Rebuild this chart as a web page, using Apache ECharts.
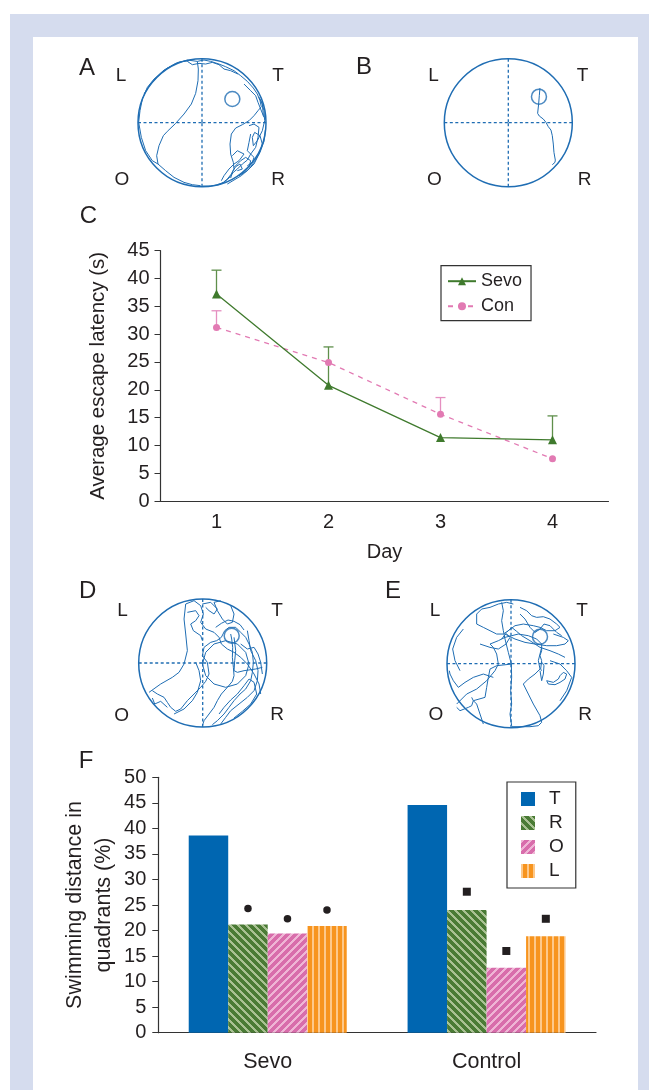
<!DOCTYPE html>
<html>
<head>
<meta charset="utf-8">
<script src="https://cdn.jsdelivr.net/npm/echarts@6/dist/echarts.min.js"></script>
<style>
html, body { margin: 0; padding: 0; background: #fff; }
body { position: relative; width: 649px; height: 1090px; overflow: hidden; }
#frame { position: absolute; left: 10px; top: 14px; width: 639px; height: 1100px; background: #d5dcee; }
#inner { position: absolute; left: 33px; top: 37px; width: 605px; height: 1100px; background: #fff; }
#chart { position: absolute; left: 0; top: 0; width: 649px; height: 1090px; }
</style>
</head>
<body>
<div id="frame"></div>
<div id="inner"></div>
<div id="chart"></div>
<script>
// panel C: escape latency
const days = ['1', '2', '3', '4'];
const sevoMean = [37.2, 20.8, 11.4, 11.0];
const sevoUpper = [41.5, 27.7, null, 15.3];
const conMean = [31.2, 24.9, 15.6, 7.6];
const conUpper = [34.2, null, 18.6, null];

// panel F: swimming distance in quadrants (%)
const groups = ['Sevo', 'Control'];
const quadT = [38.6, 44.6];
const quadR = [21.2, 24.0];
const quadO = [19.4, 12.7];
const quadL = [20.9, 18.9];
const markR = [24.3, 27.6];
const markO = [22.3, 16.0];
const markL = [24.0, 22.3];

// swim tracks (camera units, y down)
const platformA = [295, 135];
const tracksA = [
    [[200,395],[175,392],[150,385],[120,370],[95,350],[72,330],[68,305],[75,275],[88,245],[100,232],[125,208],[150,180],[172,150],[185,118],[192,80],[193,45],[190,22],[210,18],[230,22],[255,30],[275,38],[300,50],[320,65],[340,82],[358,102],[370,120],[378,140],[382,158],[372,170],[360,185],[345,200],[325,212],[305,222],[292,240],[288,270],[290,300],[298,325],[300,345],[292,360],[280,375],[268,385],[255,392],[230,396],[205,396]],
    [[300,340],[320,320],[335,310],[350,320],[345,340],[330,355],[315,365],[340,350],[360,330],[375,300],[385,270],[378,245],[362,235],[355,250],[358,275],[370,260],[385,230],[392,200],[390,170],[383,145],[375,130],[385,150],[388,185]],
    [[25,135],[18,170],[14,205],[22,250],[35,290],[55,320],[72,330]],
    [[25,135],[40,100],[60,75],[90,48],[125,28],[160,18],[190,22]],
    [[30,120],[48,92],[70,68],[100,42],[135,24],[165,20]],
    [[160,22],[175,32],[195,28],[215,30],[235,25],[255,32],[270,45],[290,50],[312,60]],
    [[250,392],[270,385],[285,372],[298,355],[310,345],[325,330],[340,318],[350,300],[360,310],[355,325],[340,335]],
    [[295,305],[310,290],[330,300],[315,320],[300,330],[285,345],[270,365],[262,380]],
    [[330,90],[350,110],[365,125],[372,145],[380,165],[390,190]],
    [[345,215],[360,210],[375,220],[372,250],[365,280],[350,300],[340,290],[345,265],[350,240]],
    [[280,390],[300,378],[322,365],[345,345],[362,322],[378,295],[390,262],[394,228]],
    [[310,350],[325,345],[318,330],[305,338],[296,352],[290,372]]
];
const platformB = [297, 128];
const tracksB = [
    [[300,102],[298,125],[296,150],[293,178],[298,186],[310,195],[318,205],[325,218],[333,228],[337,245],[340,270],[342,295],[346,318],[345,325],[337,332]]
];
const platformD = [293, 125];
const tracksD = [
    [[205,395],[210,380],[225,360],[240,340],[250,320],[262,300],[280,280],[295,262],[300,245],[298,220],[295,190],[296,160],[293,135],[290,120]],
    [[45,295],[80,270],[115,250],[135,235],[150,210],[160,170],[155,120],[150,75],[155,30],[180,20],[200,35],[208,60],[200,85],[215,105],[240,115],[255,130],[262,150],[280,165],[300,175],[320,190],[340,210],[360,240],[375,270],[380,300]],
    [[55,290],[70,300],[90,310],[100,325],[110,340],[125,352],[140,345],[160,320],[180,300],[200,280],[215,262],[225,240],[220,205],[205,185],[210,160],[230,145],[248,140],[262,130],[272,110],[285,100],[305,100],[320,115],[335,130],[345,150],[355,175],[358,205],[355,235],[350,260],[335,285],[318,300],[300,320],[285,340],[270,360],[250,380],[235,392]],
    [[205,210],[215,175],[240,150],[275,140],[310,150],[335,175],[345,210],[335,245],[310,270],[275,280],[240,270],[215,245],[205,210]],
    [[290,35],[300,60],[295,85],[280,90],[265,75],[250,50],[240,25],[260,20]],
    [[205,30],[230,25],[250,45],[240,60],[225,50],[215,40]],
    [[340,110],[345,140],[350,170],[365,200],[372,230],[370,260],[360,290],[340,310],[315,330],[290,350],[275,370],[260,390]],
    [[300,130],[305,170],[302,200],[300,230],[310,235],[330,230],[365,225],[385,220]],
    [[160,55],[185,50],[195,65],[185,80],[170,90],[178,110],[200,125],[205,140]],
    [[100,340],[80,322],[62,330],[55,312]],
    [[120,360],[150,345],[175,320],[190,295],[200,260],[195,230],[185,205]],
    [[320,150],[340,165],[360,160],[372,180],[380,205],[385,240]],
    [[245,100],[262,88],[282,78],[300,82],[318,92],[330,108]],
    [[255,360],[270,340],[290,318],[310,300],[330,275],[345,255],[360,265],[368,300],[350,330],[325,352],[300,372]]
];
const platformE = [300, 128];
const tracksE = [
    [[50,330],[80,300],[110,285],[140,260],[165,230],[175,210],[170,180],[160,160],[150,150],[175,140],[195,130],[215,125],[235,120],[265,125],[290,135],[305,150],[305,170],[300,185],[305,200],[302,225],[305,230]],
    [[215,395],[210,360],[215,330],[212,290],[215,250],[214,210],[205,175],[195,135],[190,110],[185,80],[190,50],[185,25]],
    [[305,160],[295,200],[300,225],[285,240],[265,255],[250,270],[265,300],[280,330],[300,365],[305,385],[295,395],[270,398],[240,398],[215,398]],
    [[240,40],[260,50],[275,65],[290,70],[310,68],[330,75],[350,90],[360,100],[345,110],[320,110],[300,100],[280,95],[250,90],[225,95],[205,110],[190,120],[170,120],[150,110],[130,100],[110,90],[110,60],[125,45],[150,40],[175,30],[200,25],[220,30]],
    [[195,120],[225,135],[255,145],[285,150],[320,155],[350,155],[375,150],[385,140],[370,130],[340,120]],
    [[160,250],[130,240],[100,250],[75,265],[55,280],[40,260],[30,240],[28,230]],
    [[130,390],[120,360],[110,330],[100,320],[95,335],[85,340],[60,350],[50,340]],
    [[340,265],[320,260],[325,270],[345,272],[360,265],[375,255],[380,240],[370,235],[360,245],[355,255],[340,265]],
    [[215,210],[170,215],[150,225],[145,250],[140,280],[135,310],[100,320],[95,310]],
    [[330,200],[360,210],[380,230],[395,250],[380,290],[360,320]],
    [[300,230],[305,260],[310,240],[312,215],[306,205]],
    [[200,115],[215,100],[230,112],[245,125],[270,140],[300,160],[330,170],[355,180],[375,190]],
    [[120,150],[150,160],[175,165],[198,150],[210,130],[198,118],[185,135]],
    [[240,60],[255,75],[270,100],[285,115],[300,105],[312,90],[330,95],[350,115],[365,125]],
    [[60,230],[45,200],[38,165],[50,130],[70,105]]
];

const FONT = '"Liberation Sans", Arial, Helvetica, sans-serif';
const INK = '#231f20';
const POOL = '#1f6db3';

// maze layout: pixel centre, camera centre
const mazes = [
    { c: [202, 122.7], t: [204, 206], tracks: tracksA, platform: platformA },
    { c: [508.3, 122.7], t: [205, 206], tracks: tracksB, platform: platformB },
    { c: [202.7, 663], t: [206, 207], tracks: tracksD, platform: platformD },
    { c: [511, 663.7], t: [213, 209], tracks: tracksE, platform: platformE }
];

const labels = [
    ['A', 87, 68, 24], ['L', 121, 76, 19], ['T', 278, 76, 19], ['O', 122, 180, 19], ['R', 278, 180, 19],
    ['B', 364, 67, 24], ['L', 433.5, 76, 19], ['T', 582.5, 76, 19], ['O', 434.5, 180, 19], ['R', 584.5, 180, 19],
    ['C', 88.5, 216, 24],
    ['D', 87.6, 591.5, 24], ['L', 122.5, 611, 19], ['T', 277, 611, 19], ['O', 121.6, 715.5, 19], ['R', 277, 715, 19],
    ['E', 393, 591, 24], ['L', 435, 611, 19], ['T', 582, 611, 19], ['O', 436, 715, 19], ['R', 585, 715, 19],
    ['F', 86, 761, 24]
];

function stripes(dark, light, size, test) {
    let c = document.createElement('canvas');
    c.width = size;
    c.height = size;
    let ctx = c.getContext('2d');
    ctx.fillStyle = dark;
    ctx.fillRect(0, 0, size, size);
    ctx.fillStyle = light;
    for (let x = 0; x < size; x++) {
        for (let y = 0; y < size; y++) {
            if (test(x, y)) ctx.fillRect(x, y, 1, 1);
        }
    }
    return { image: c, repeat: 'repeat' };
}

const blueFill = '#0066b1';
const greenFill = stripes('#4a7b35', '#a9c193', 8, (x, y) => (x - y + 8) % 8 < 3);
const pinkFill = stripes('#d86dab', '#efb5d5', 8, (x, y) => (x + y) % 8 < 3);
const orangeFill = stripes('#f7941e', '#fdc88a', 6, (x, y) => x % 6 < 2);

function errorBar(color) {
    return function (params, api) {
        let p0 = api.coord([api.value(0), api.value(1)]);
        let p1 = api.coord([api.value(0), api.value(2)]);
        let st = { stroke: color, lineWidth: 1.3 };
        return {
            type: 'group',
            children: [
                { type: 'line', shape: { x1: p0[0], y1: p0[1], x2: p1[0], y2: p1[1] }, style: st },
                { type: 'line', shape: { x1: p1[0] - 5, y1: p1[1], x2: p1[0] + 5, y2: p1[1] }, style: st }
            ]
        };
    };
}

function errData(mean, upper) {
    let out = [];
    for (let i = 0; i < mean.length; i++) {
        if (upper[i] != null) out.push([i, mean[i], upper[i]]);
    }
    return out;
}

function marks(vals) {
    return {
        symbolSize: 8,
        itemStyle: { color: INK },
        label: { show: false },
        silent: true,
        data: groups.map((g, i) => ({
            coord: [g, vals[i]],
            symbol: i === 0 ? 'circle' : 'rect',
            symbolSize: i === 0 ? 7.5 : 8
        }))
    };
}

let chart = echarts.init(document.getElementById('chart'));

let axisLine = { show: true, lineStyle: { color: '#333', width: 1.2 } };
let tickLabel = { color: INK, fontSize: 20, fontFamily: FONT };

let grids = [
    { left: 160.5, top: 250.7, width: 448, height: 250.3, outerBoundsMode: 'none' },
    { left: 158.3, top: 777.3, width: 437.7, height: 255.4, outerBoundsMode: 'none' }
];
let xAxes = [
    {
        type: 'category', gridIndex: 0, data: days, boundaryGap: true,
        axisLine: axisLine, axisTick: { inside: true, length: 7, lineStyle: { color: '#333' } },
        axisLabel: Object.assign({ margin: 11 }, tickLabel),
        name: 'Day', nameLocation: 'middle', nameGap: 41,
        nameTextStyle: { color: INK, fontSize: 20, fontFamily: FONT }
    },
    {
        type: 'category', gridIndex: 1, data: groups, boundaryGap: true,
        axisLine: axisLine, axisTick: { inside: true, length: 7, lineStyle: { color: '#333' } },
        axisLabel: Object.assign({ margin: 18 }, tickLabel, { fontSize: 21.5 })
    }
];
let yAxes = [
    {
        type: 'value', gridIndex: 0, min: 0, max: 45, interval: 5,
        axisLine: axisLine, axisTick: { show: true, length: 6, lineStyle: { color: '#333' } },
        splitLine: { show: false },
        axisLabel: Object.assign({ margin: 11 }, tickLabel),
        name: 'Average escape latency (s)', nameLocation: 'middle', nameGap: 52,
        nameTextStyle: { color: INK, fontSize: 20.5, fontFamily: FONT }
    },
    {
        type: 'value', gridIndex: 1, min: 0, max: 50, interval: 5,
        axisLine: axisLine, axisTick: { show: true, length: 6, lineStyle: { color: '#333' } },
        splitLine: { show: false },
        axisLabel: Object.assign({ margin: 12 }, tickLabel),
        name: 'Swimming distance in\nquadrants (%)', nameLocation: 'middle', nameGap: 40,
        nameMoveOverlap: false,
        nameTextStyle: { color: INK, fontSize: 21.5, lineHeight: 29, fontFamily: FONT }
    }
];

let polars = [], angleAxes = [], radiusAxes = [];
let series = [
    {
        name: 'SevoErr', type: 'custom', xAxisIndex: 0, yAxisIndex: 0, z: 1,
        renderItem: errorBar('#5f8f4b'), data: errData(sevoMean, sevoUpper), encode: { x: 0, y: [1, 2] }
    },
    {
        name: 'ConErr', type: 'custom', xAxisIndex: 0, yAxisIndex: 0, z: 1,
        renderItem: errorBar('#e58fc0'), data: errData(conMean, conUpper), encode: { x: 0, y: [1, 2] }
    },
    {
        name: 'Sevo', type: 'line', xAxisIndex: 0, yAxisIndex: 0, z: 3, data: sevoMean,
        symbol: 'triangle', symbolSize: 9, color: '#3f7a2d',
        lineStyle: { width: 1.3, color: '#3f7a2d' }, itemStyle: { color: '#3f7a2d' }
    },
    {
        name: 'Con', type: 'line', xAxisIndex: 0, yAxisIndex: 0, z: 2, data: conMean,
        symbol: 'circle', symbolSize: 7, color: '#e27ab3',
        lineStyle: { width: 1.3, type: [5, 5], color: '#e27ab3' }, itemStyle: { color: '#e27ab3' }
    },
    { name: 'T', type: 'bar', xAxisIndex: 1, yAxisIndex: 1, data: quadT, barWidth: 39.5, barGap: '0%', itemStyle: { color: blueFill } },
    { name: 'R', type: 'bar', xAxisIndex: 1, yAxisIndex: 1, data: quadR, barWidth: 39.5, barGap: '0%', itemStyle: { color: greenFill }, markPoint: marks(markR) },
    { name: 'O', type: 'bar', xAxisIndex: 1, yAxisIndex: 1, data: quadO, barWidth: 39.5, barGap: '0%', itemStyle: { color: pinkFill }, markPoint: marks(markO) },
    { name: 'L', type: 'bar', xAxisIndex: 1, yAxisIndex: 1, data: quadL, barWidth: 39.5, barGap: '0%', itemStyle: { color: orangeFill }, markPoint: marks(markL) }
];

mazes.forEach((m, i) => {
    let gi = grids.length;
    grids.push({ left: m.c[0] - 64, top: m.c[1] - 64, width: 128, height: 128, outerBoundsMode: 'none' });
    xAxes.push({ type: 'value', gridIndex: gi, min: m.t[0] - 192, max: m.t[0] + 192, show: false });
    yAxes.push({ type: 'value', gridIndex: gi, min: m.t[1] - 192, max: m.t[1] + 192, inverse: true, show: false });
    polars.push({ center: [m.c[0], m.c[1]], radius: 64 });
    angleAxes.push({
        polarIndex: i, type: 'value', min: 0, max: 360, interval: 90, startAngle: 0,
        axisLine: { show: true, lineStyle: { color: POOL, width: 1.5 } },
        axisTick: { show: false }, axisLabel: { show: false },
        splitLine: { show: true, lineStyle: { color: POOL, width: 1.3, type: [3, 2.5] } }
    });
    radiusAxes.push({
        polarIndex: i, type: 'value', min: 0, max: 1,
        axisLine: { show: false }, axisTick: { show: false }, axisLabel: { show: false }, splitLine: { show: false }
    });
    series.push({
        type: 'lines', coordinateSystem: 'cartesian2d', xAxisIndex: gi, yAxisIndex: gi,
        polyline: true, silent: true, z: 4,
        lineStyle: { color: POOL, width: 1, opacity: 1 },
        data: m.tracks.map(p => ({ coords: p }))
    });
    series.push({
        type: 'scatter', xAxisIndex: gi, yAxisIndex: gi, silent: true, z: 5,
        symbol: 'circle', symbolSize: 15, data: [m.platform],
        itemStyle: { color: 'rgba(0,0,0,0)', borderColor: POOL, borderWidth: 1.5 }
    });
});

let option = {
    animation: false,
    backgroundColor: 'transparent',
    textStyle: { fontFamily: FONT },
    grid: grids,
    xAxis: xAxes,
    yAxis: yAxes,
    polar: polars,
    angleAxis: angleAxes,
    radiusAxis: radiusAxes,
    legend: [
        {
            data: ['Sevo', 'Con'], orient: 'vertical', left: 441, top: 265.7,
            backgroundColor: '#fff', borderColor: '#333', borderWidth: 1.2, borderRadius: 0,
            padding: [6, 9, 5, 6], itemGap: 6, itemWidth: 28, itemHeight: 10,
            textStyle: { fontSize: 18, lineHeight: 19, color: INK, fontFamily: FONT }
        },
        {
            data: ['T', 'R', 'O', 'L'], orient: 'vertical', left: 507, top: 782,
            backgroundColor: '#fff', borderColor: '#333', borderWidth: 1.2, borderRadius: 0,
            padding: [7, 12, 7, 14], itemGap: 4, itemWidth: 14, itemHeight: 14, icon: 'rect',
            textStyle: { fontSize: 19, lineHeight: 20, color: INK, fontFamily: FONT, padding: [0, 0, 0, 9] }
        }
    ],
    graphic: labels.map(l => ({
        type: 'text', x: l[1], y: l[2], silent: true,
        style: { text: l[0], fontSize: l[3], fontFamily: FONT, fill: INK, align: 'center', verticalAlign: 'middle' }
    })),
    series: series
};

option && chart.setOption(option);
</script>
</body>
</html>
